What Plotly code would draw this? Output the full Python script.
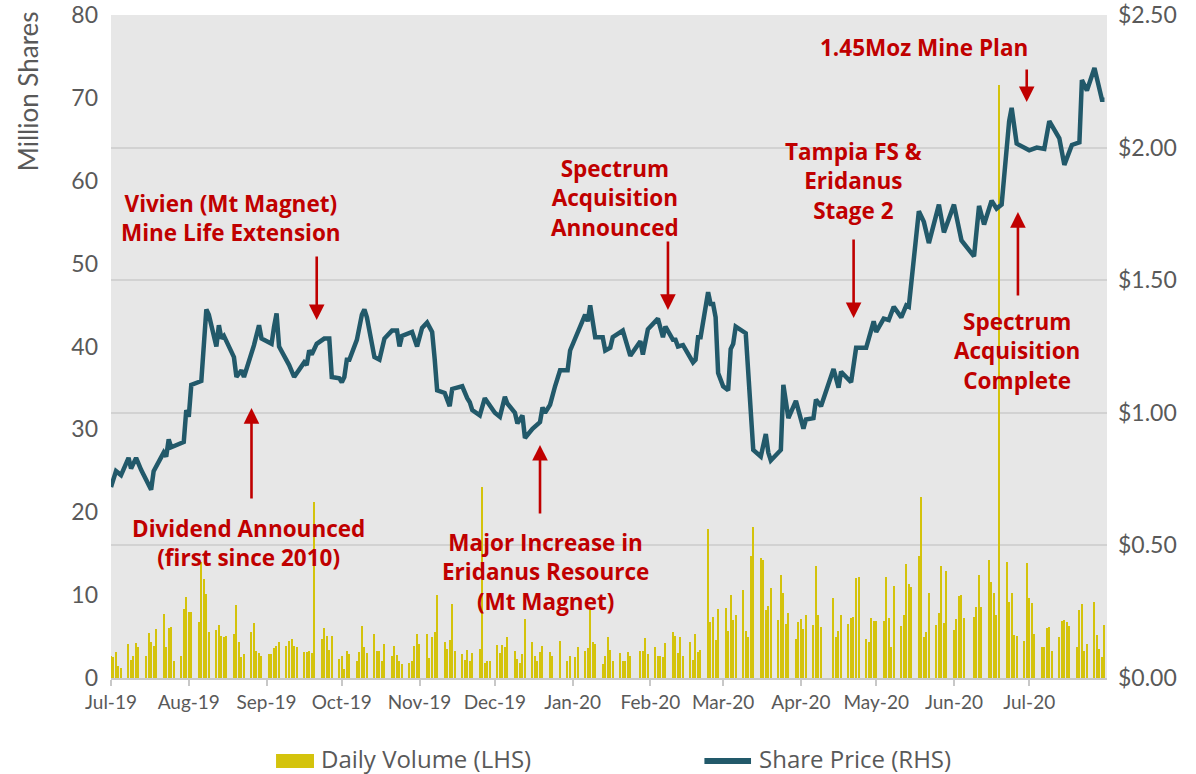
import pandas as pd
import plotly.graph_objects as go

# ---------------- data ----------------
price_dates = [
    "2019-07-01","2019-07-03","2019-07-05","2019-07-08","2019-07-09","2019-07-11","2019-07-13","2019-07-17",
    "2019-07-18","2019-07-22","2019-07-23","2019-07-24","2019-07-25","2019-07-30","2019-07-31","2019-08-01",
    "2019-08-02","2019-08-06","2019-08-08","2019-08-09","2019-08-12","2019-08-13","2019-08-14","2019-08-15",
    "2019-08-19","2019-08-20","2019-08-22","2019-08-23","2019-08-27","2019-08-29","2019-08-30","2019-09-03",
    "2019-09-04","2019-09-05","2019-09-06","2019-09-10","2019-09-12","2019-09-16","2019-09-17","2019-09-18",
    "2019-09-19","2019-09-21","2019-09-24","2019-09-26","2019-09-27","2019-09-30","2019-10-01","2019-10-02",
    "2019-10-03","2019-10-04","2019-10-07","2019-10-09","2019-10-10","2019-10-11","2019-10-14","2019-10-16",
    "2019-10-18","2019-10-21","2019-10-23","2019-10-24","2019-10-25","2019-10-29","2019-10-31","2019-11-02",
    "2019-11-04","2019-11-06","2019-11-07","2019-11-08","2019-11-11","2019-11-13","2019-11-14","2019-11-18",
    "2019-11-20","2019-11-21","2019-11-22","2019-11-25","2019-11-27","2019-11-29","2019-12-01","2019-12-03",
    "2019-12-05","2019-12-06","2019-12-09","2019-12-10","2019-12-12","2019-12-13","2019-12-16","2019-12-19",
    "2019-12-20","2019-12-21","2019-12-23","2019-12-25","2019-12-27","2019-12-30","2019-12-31","2020-01-06",
    "2020-01-07","2020-01-08","2020-01-10","2020-01-13","2020-01-14","2020-01-16","2020-01-17","2020-01-21",
    "2020-01-24","2020-01-28","2020-01-29","2020-01-31","2020-02-04","2020-02-06","2020-02-07","2020-02-10",
    "2020-02-11","2020-02-12","2020-02-14","2020-02-18","2020-02-19","2020-02-20","2020-02-21","2020-02-24",
    "2020-02-25","2020-02-26","2020-02-27","2020-02-28","2020-03-01","2020-03-03","2020-03-04","2020-03-05",
    "2020-03-06","2020-03-10","2020-03-13","2020-03-16","2020-03-18","2020-03-19","2020-03-20","2020-03-24",
    "2020-03-25","2020-03-27","2020-03-30","2020-04-02","2020-04-03","2020-04-06","2020-04-07","2020-04-09",
    "2020-04-11","2020-04-14","2020-04-16","2020-04-17","2020-04-21","2020-04-23","2020-04-27","2020-04-30",
    "2020-05-01","2020-05-04","2020-05-06","2020-05-08","2020-05-11","2020-05-13","2020-05-14","2020-05-18",
    "2020-05-20","2020-05-22","2020-05-26","2020-05-28","2020-06-01","2020-06-04","2020-06-09","2020-06-11",
    "2020-06-13","2020-06-16","2020-06-18","2020-06-20","2020-06-23","2020-06-24","2020-06-26","2020-07-01",
    "2020-07-04","2020-07-07","2020-07-09","2020-07-13","2020-07-15","2020-07-17","2020-07-18","2020-07-21",
    "2020-07-22","2020-07-24","2020-07-27","2020-07-30","2020-07-31",
]
share_price = [
    0.72,0.78,0.765,0.83,0.79,0.83,0.785,0.71,
    0.78,0.85,0.835,0.90,0.87,0.89,1.01,0.985,
    1.105,1.12,1.39,1.37,1.25,1.33,1.28,1.29,
    1.21,1.135,1.16,1.135,1.255,1.33,1.28,1.26,
    1.325,1.375,1.25,1.18,1.135,1.19,1.18,1.235,
    1.22,1.26,1.28,1.28,1.135,1.13,1.115,1.135,
    1.20,1.20,1.275,1.37,1.39,1.36,1.21,1.20,
    1.28,1.31,1.31,1.25,1.29,1.305,1.25,1.32,
    1.34,1.305,1.205,1.085,1.075,1.025,1.09,1.10,
    1.055,1.04,1.01,0.99,1.055,1.03,1.00,0.985,
    1.06,1.035,1.00,0.96,0.99,0.905,0.94,0.965,
    1.02,1.00,1.03,1.10,1.16,1.16,1.235,1.37,
    1.345,1.405,1.285,1.285,1.235,1.245,1.285,1.31,
    1.215,1.27,1.22,1.315,1.355,1.285,1.325,1.275,
    1.275,1.25,1.255,1.19,1.20,1.285,1.285,1.455,
    1.41,1.41,1.36,1.15,1.10,1.085,1.24,1.26,
    1.325,1.30,0.86,0.835,0.92,0.85,0.82,0.86,
    1.105,0.98,1.045,0.94,0.975,0.98,1.05,1.025,
    1.085,1.165,1.095,1.155,1.115,1.245,1.245,1.345,
    1.305,1.355,1.35,1.40,1.36,1.405,1.40,1.76,
    1.72,1.64,1.785,1.68,1.785,1.65,1.59,1.78,
    1.71,1.80,1.77,1.785,2.10,2.15,2.015,1.99,
    2.00,1.995,2.10,2.035,1.935,1.985,2.01,2.02,
    2.255,2.215,2.30,2.18,2.18,
]

# Daily volume (million shares), one row per trading week Mon..Fri (None = market closed)
volume_weeks = [
    [2.6, 2.5, 3.1, 1.5, 1.2],   # w/c 1 Jul 2019
    [4.1, 2.2, 2.7, 4.2, 3.7],
    [2.7, 5.4, 4.4, 3.9, 5.9],
    [7.7, 3.8, 6.0, 6.1, 2.1],
    [2.6, 8.3, 9.8, 8.0, 8.0],
    [6.8, 14.0, 12.0, 10.1, 5.5],  # w/c 5 Aug
    [5.8, 6.4, 5.1, 4.9, 5.1],
    [5.3, 8.8, 4.3, 2.5, 2.9],
    [5.5, 6.6, 3.3, 3.0, 2.7],
    [2.9, 2.9, 3.6, 3.9, 4.3],   # w/c 2 Sep
    [3.9, 4.5, 4.7, 3.9, 3.8],
    [3.1, 3.1, 3.2, 3.0, 21.2],
    [4.7, 6.0, 5.1, 3.4, 5.1],
    [2.3, 2.7, 1.1, 3.3, 2.9],   # w/c 30 Sep
    [2.1, 3.1, 6.3, 3.8, 3.0],
    [5.3, 3.2, 3.3, 2.1, 4.1],
    [2.7, 3.9, 2.8, 2.1, 1.7],
    [1.8, 2.1, 3.9, 5.3, 4.1],
    [5.3, 2.4, 5.0, 5.6, 10.0],  # w/c 4 Nov
    [4.3, 3.5, 4.6, 8.9, 3.3],
    [2.9, 2.2, 3.4, 2.0, 3.0],
    [3.5, 23.0, 1.8, 2.1, 2.1],
    [4.0, 3.0, 4.0, 3.7, 4.9],   # w/c 2 Dec
    [3.3, 2.3, 1.8, 2.9, 7.1],
    [4.4, 2.7, 2.1, 3.1, 3.9],
    [3.1, 2.7, None, None, 4.5],
    [2.0, 2.6, None, 2.5, 3.7],  # w/c 30 Dec
    [3.2, 3.6, 8.2, 4.3, 4.1],
    [1.7, 2.6, 5.0, 3.4, 2.0],
    [3.0, 2.0, 2.0, 3.1, 2.6],
    [None, 3.3, 3.3, 4.8, 2.9],
    [3.7, 2.7, 2.7, 2.5, 4.2],   # w/c 3 Feb 2020
    [5.6, 5.1, 3.0, 4.9, 2.6],
    [4.3, 2.2, 5.3, 3.1, 3.4],
    [18.0, 6.7, 7.4, 4.6, 8.3],
    [8.5, 5.7, 10.0, 7.0, 7.6],  # w/c 2 Mar
    [10.6, 5.7, 4.9, 14.7, 18.2],
    [14.5, 14.2, 8.2, 8.7, 10.9],
    [7.0, 12.4, 10.3, 6.5, 7.9],
    [4.7, 6.8, 7.1, 5.9, 7.6],   # w/c 30 Mar
    [6.4, 13.5, 7.6, 6.1, None],
    [None, 9.7, 4.9, 5.7, 7.6],
    [6.5, 7.2, 7.4, 12.1, 12.2],
    [4.7, 4.3, 7.3, 6.9, 6.9],
    [6.9, 12.2, 7.2, 3.7, 11.1], # w/c 4 May
    [6.3, 7.6, 13.8, 11.3, 11.0],
    [14.7, 21.8, 4.9, 5.5, 10.2],
    [6.4, 7.8, 13.5, 6.6, 12.9],
    [5.8, 7.1, 9.9, 10.0, 7.2],  # w/c 1 Jun
    [None, 7.4, 8.6, 12.4, 8.6],
    [14.2, 11.6, 10.3, 7.6, 71.5],
    [14.0, 9.2, 10.3, 5.2, 5.1],
    [4.5, 13.9, 9.6, 9.1, 5.3],  # w/c 29 Jun
    [3.8, 3.7, 6.0, 6.1, 3.3],
    [4.9, 6.9, 7.0, 6.7, 6.3],
    [3.7, 8.2, 8.9, 3.2, 4.1],
    [9.2, 5.2, 3.5, 2.5, 6.4],
]
trading_days = pd.bdate_range("2019-07-01", "2020-07-31")
daily_volume = [v for week in volume_weeks for v in week]

month_ticks = ["2019-07-01","2019-08-01","2019-09-01","2019-10-01","2019-11-01","2019-12-01",
               "2020-01-01","2020-02-01","2020-03-01","2020-04-01","2020-05-01","2020-06-01","2020-07-01"]
month_labels = ["Jul-19","Aug-19","Sep-19","Oct-19","Nov-19","Dec-19",
                "Jan-20","Feb-20","Mar-20","Apr-20","May-20","Jun-20","Jul-20"]

# event labels: (text, date, price level on RHS)
event_labels = [
    ("Vivien (Mt Magnet)<br>Mine Life Extension", "2019-08-18", 1.735),
    ("Dividend Announced<br>(first since 2010)", "2019-08-25", 0.509),
    ("Major Increase in<br>Eridanus Resource<br>(Mt Magnet)", "2019-12-21", 0.400),
    ("Spectrum<br>Acquisition<br>Announced", "2020-01-18", 1.810),
    ("Tampia FS &<br>Eridanus<br>Stage 2", "2020-04-22", 1.874),
    ("1.45Moz Mine Plan", "2020-05-20", 2.379),
    ("Spectrum<br>Acquisition<br>Complete", "2020-06-26", 1.233),
]
# event arrows: (date, tail price, head price)
event_arrows = [
    ("2019-09-21", 1.595, 1.350),
    ("2019-08-26", 0.671, 1.018),
    ("2019-12-19", 0.615, 0.879),
    ("2020-02-08", 1.652, 1.388),
    ("2020-04-22", 1.659, 1.357),
    ("2020-06-30", 2.300, 2.172),
    ("2020-06-26 12:00", 1.437, 1.757),
]

# ---------------- figure ----------------
GREY_TXT = "#595959"
BAR_COL = "#d4c30c"
LINE_COL = "#22596a"
RED = "#c00000"
FONT = "Lato"
LABEL_FONT = "Open Sans"

fig = go.Figure()
fig.add_trace(go.Bar(
    x=trading_days, y=daily_volume, name="Daily Volume (LHS)",
    marker=dict(color=BAR_COL, line=dict(width=0)),
    width=0.5 * 86400000, yaxis="y",
))
fig.add_trace(go.Scatter(
    x=pd.to_datetime(price_dates), y=share_price, name="Share Price (RHS)",
    mode="lines", line=dict(color=LINE_COL, width=4.5), yaxis="y2",
))

annotations = []
for text, d, p in event_labels:
    annotations.append(dict(
        text=text, x=d, y=p, xref="x", yref="y2", showarrow=False,
        font=dict(family=LABEL_FONT, size=22.5, color=RED, weight="bold"),
        align="center", xanchor="center", yanchor="middle",
    ))
for d, tail, head in event_arrows:
    annotations.append(dict(
        text="", x=d, y=head, ax=d, ay=tail, xref="x", yref="y2",
        axref="x", ayref="y2", showarrow=True, arrowhead=2,
        arrowwidth=2.6, arrowsize=1.2, arrowcolor=RED, standoff=0,
    ))
# y-axis title (top-left) and manual legend texts
annotations.append(dict(
    text="Million Shares", xref="paper", yref="paper", x=-0.0833, y=0.885,
    textangle=-90, showarrow=False, font=dict(family=FONT, size=26, color=GREY_TXT),
    xanchor="center", yanchor="middle",
))
annotations.append(dict(
    text="Daily Volume (LHS)", xref="paper", yref="paper", x=0.2088, y=-0.1207,
    showarrow=False, xanchor="left", yanchor="middle",
    font=dict(family=LABEL_FONT, size=24, color=GREY_TXT),
))
annotations.append(dict(
    text="Share Price (RHS)", xref="paper", yref="paper", x=0.6486, y=-0.1207,
    showarrow=False, xanchor="left", yanchor="middle",
    font=dict(family=LABEL_FONT, size=24, color=GREY_TXT),
))

shapes = [
    dict(type="rect", xref="paper", yref="paper", x0=0.1657, x1=0.2038, y0=-0.1357, y1=-0.1146,
         fillcolor=BAR_COL, line=dict(width=0)),
    dict(type="line", xref="paper", yref="paper", x0=0.5958, x1=0.6426, y0=-0.1252, y1=-0.1252,
         line=dict(color=LINE_COL, width=6)),
]

fig.update_layout(
    width=1196, height=774,
    margin=dict(l=111, r=89, t=15, b=96, autoexpand=False),
    paper_bgcolor="white", plot_bgcolor="#e7e7e7",
    showlegend=False, bargap=0,
    font=dict(family=FONT, color=GREY_TXT),
    xaxis=dict(
        type="date", range=["2019-07-01", "2020-08-01"], automargin=False,
        tickmode="array", tickvals=month_ticks, ticktext=month_labels,
        ticks="outside", ticklen=6, tickwidth=1.5, tickcolor="#c8c8c8",
        showline=True, linecolor="#c8c8c8", linewidth=2,
        showgrid=False, zeroline=False,
        tickfont=dict(family=FONT, size=19, color=GREY_TXT),
    ),
    yaxis=dict(
        range=[0, 80], dtick=10, showgrid=False, zeroline=False, automargin=False,
        tickfont=dict(family=FONT, size=23, color=GREY_TXT), ticks="", ticklabelstandoff=12,
    ),
    yaxis2=dict(
        range=[0, 2.5], dtick=0.5, tickformat="$.2f", overlaying="y", side="right",
        showgrid=True, gridcolor="#d2d2d2", gridwidth=1.5, zeroline=False, automargin=False,
        tickfont=dict(family=FONT, size=23, color=GREY_TXT), ticks="", ticklabelstandoff=10,
    ),
    annotations=annotations, shapes=shapes,
)

fig.write_html("out.html", config={"displayModeBar": False},
               post_script="document.body.style.margin='0';")
